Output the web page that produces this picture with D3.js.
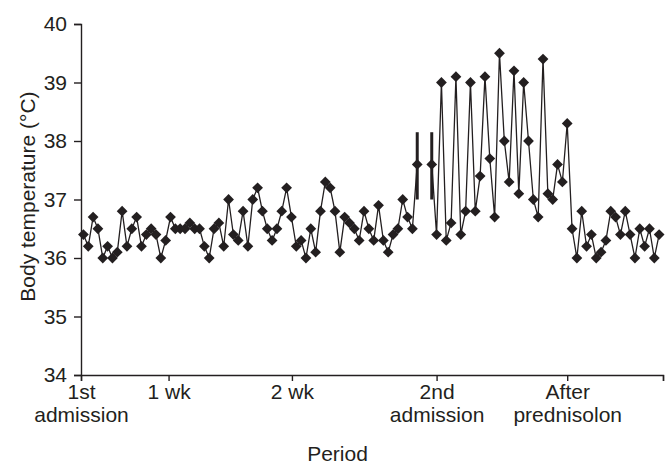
<!DOCTYPE html>
<html>
<head>
<meta charset="utf-8">
<script src="https://cdn.jsdelivr.net/npm/d3@7"></script>
<style>
    body { margin: 0; background: #fff; }
    svg { display: block; font-family: "Liberation Sans", Arial, sans-serif; }
</style>
</head>
<body>
<div id="chart"></div>
<script>
"use strict";

// one reading per slot, null = no reading (gap between admissions)
const temperature = [
    36.4, 36.2, 36.7, 36.5, 36.0, 36.2, 36.0, 36.1, 36.8, 36.2,
    36.5, 36.7, 36.2, 36.4, 36.5, 36.4, 36.0, 36.3, 36.7, 36.5,
    36.5, 36.5, 36.6, 36.5, 36.5, 36.2, 36.0, 36.5, 36.6, 36.2,
    37.0, 36.4, 36.3, 36.8, 36.2, 37.0, 37.2, 36.8, 36.5, 36.3,
    36.5, 36.8, 37.2, 36.7, 36.2, 36.3, 36.0, 36.5, 36.1, 36.8,
    37.3, 37.2, 36.8, 36.1, 36.7, 36.6, 36.5, 36.3, 36.8, 36.5,
    36.3, 36.9, 36.3, 36.1, 36.4, 36.5, 37.0, 36.7, 36.5, 37.6,
    null, null, 37.6, 36.4, 39.0, 36.3, 36.6, 39.1, 36.4, 36.8,
    39.0, 36.8, 37.4, 39.1, 37.7, 36.7, 39.5, 38.0, 37.3, 39.2,
    37.1, 39.0, 38.0, 37.0, 36.7, 39.4, 37.1, 37.0, 37.6, 37.3,
    38.3, 36.5, 36.0, 36.8, 36.2, 36.4, 36.0, 36.1, 36.3, 36.8,
    36.7, 36.4, 36.8, 36.4, 36.0, 36.5, 36.2, 36.5, 36.0, 36.4
];

// vertical bars drawn on two readings
const err_index = [69, 72];
const err_low = [37.0, 37.0];
const err_high = [38.15, 38.15];

const y_ticks = [34, 35, 36, 37, 38, 39, 40];
const x_tick_pos = [-0.5, 17.6, 43.1, 73, 100, 119.8];
const x_tick_labels = [["1st", "admission"], ["1 wk"], ["2 wk"], ["2nd", "admission"], ["After", "prednisolon"], []];

const y_title = "Body temperature (\u00b0C)";
const x_title = "Period";

const ink = "#231f20";
const font_size = "21px";
const width = 671, height = 466;

const svg = d3.select("#chart").append("svg")
    .attr("width", width)
    .attr("height", height);

const x = d3.scaleLinear().domain([-0.5, 119.8]).range([81, 663]);
const y = d3.scaleLinear().domain([34, 40]).range([375, 24]);

const y_axis = svg.append("g")
    .attr("transform", "translate(81,0)")
    .call(d3.axisLeft(y).tickValues(y_ticks).tickSize(7).tickPadding(7).tickFormat(d3.format("d")));

const x_axis = svg.append("g")
    .attr("transform", "translate(0,375)")
    .call(d3.axisBottom(x).tickValues(x_tick_pos).tickSize(6).tickFormat(""));

[y_axis, x_axis].forEach(function(g){
    g.select(".domain").attr("stroke", ink).attr("stroke-width", 1.4);
    g.selectAll(".tick line").attr("stroke", ink).attr("stroke-width", 1.4);
});
y_axis.selectAll(".tick text")
    .attr("fill", ink)
    .style("font-size", font_size)
    .style("font-family", "Liberation Sans, Arial, sans-serif");

// multi-line category labels under the x ticks
x_axis.selectAll(".tick").each(function(d, i){
    const txt = d3.select(this).select("text")
        .attr("fill", ink)
        .attr("y", 0)
        .attr("dy", null)
        .style("font-size", font_size)
        .style("font-family", "Liberation Sans, Arial, sans-serif");
    x_tick_labels[i].forEach(function(line, j){
        txt.append("tspan").attr("x", 0).attr("y", 24 + j * 23).text(line);
    });
});

svg.append("text")
    .attr("transform", "translate(28," + y(37.05) + ") rotate(-90)")
    .attr("text-anchor", "middle")
    .attr("dy", "0.35em")
    .attr("fill", ink)
    .style("font-size", font_size)
    .text(y_title);

svg.append("text")
    .attr("x", width / 2 + 2)
    .attr("y", 461)
    .attr("text-anchor", "middle")
    .attr("fill", ink)
    .style("font-size", font_size)
    .text(x_title);

const points = temperature.map((v, i) => ({i: i, v: v}));

const line = d3.line()
    .defined(d => d.v !== null)
    .x(d => x(d.i))
    .y(d => y(d.v));

svg.append("path")
    .datum(points)
    .attr("d", line)
    .attr("fill", "none")
    .attr("stroke", ink)
    .attr("stroke-width", 1.3);

svg.selectAll(".err")
    .data(err_index)
    .enter().append("line")
    .attr("class", "err")
    .attr("x1", d => x(d))
    .attr("x2", d => x(d))
    .attr("y1", (d, k) => y(err_low[k]))
    .attr("y2", (d, k) => y(err_high[k]))
    .attr("stroke", ink)
    .attr("stroke-width", 3);

const diamond = d3.symbol().type(d3.symbolSquare).size(58);

svg.selectAll(".pt")
    .data(points.filter(d => d.v !== null))
    .enter().append("path")
    .attr("class", "pt")
    .attr("d", diamond)
    .attr("transform", d => "translate(" + x(d.i) + "," + y(d.v) + ") rotate(45)")
    .attr("fill", ink);
</script>
</body>
</html>
